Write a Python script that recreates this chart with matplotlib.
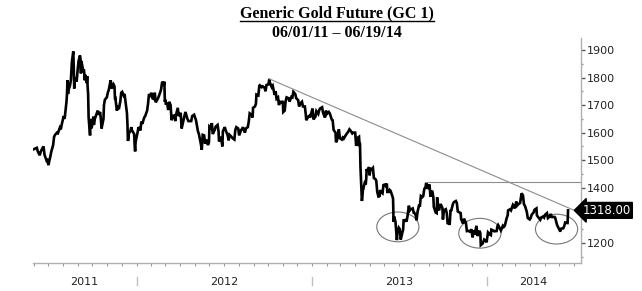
import matplotlib
matplotlib.use("Agg")
import matplotlib.pyplot as plt
import matplotlib.dates as mdates
from matplotlib.patches import Ellipse
from matplotlib.lines import Line2D
import numpy as np
from datetime import datetime

# gold front month closes (date, price)
raw_2011 = """06-01 1540, 06-03 1542, 06-07 1545, 06-09 1532, 06-13 1518, 06-15 1530, 06-17 1538, 06-21 1550,
06-23 1520, 06-27 1500, 06-29 1505, 07-01 1482, 07-05 1512, 07-07 1530, 07-11 1555, 07-13 1585, 07-15 1592,
07-19 1600, 07-21 1598, 07-25 1618, 07-27 1612, 07-29 1630, 08-02 1660, 08-04 1650, 08-08 1715, 08-09 1745,
08-10 1790, 08-11 1740, 08-12 1755, 08-15 1770, 08-17 1790, 08-18 1825, 08-19 1855, 08-22 1895, 08-23 1840,
08-24 1760, 08-25 1790, 08-26 1800, 08-29 1785, 08-31 1825, 09-02 1860, 09-05 1880, 09-06 1868, 09-07 1815,
09-08 1860, 09-09 1850, 09-12 1820, 09-13 1830, 09-14 1815, 09-15 1790, 09-16 1810, 09-19 1780, 09-20 1805,
09-21 1765, 09-22 1740, 09-23 1655, 09-26 1590, 09-27 1650, 09-28 1615, 09-30 1622, 10-03 1658, 10-04 1628,
10-06 1650, 10-10 1670, 10-12 1680, 10-14 1665, 10-17 1675, 10-19 1640, 10-20 1615, 10-24 1650, 10-25 1700,
10-27 1720, 10-31 1728, 11-02 1745, 11-04 1755, 11-08 1790, 11-09 1780, 11-10 1760, 11-14 1775, 11-16 1768,
11-17 1720, 11-18 1722, 11-21 1680, 11-23 1698, 11-25 1685, 11-28 1712, 11-30 1745, 12-02 1748, 12-05 1735,
12-07 1740, 12-09 1712, 12-12 1670, 12-13 1630, 12-14 1570, 12-15 1578, 12-16 1598, 12-19 1605, 12-21 1620,
12-22 1610, 12-27 1595, 12-28 1555, 12-29 1532, 12-30 1566"""

raw_2012 = """01-03 1600, 01-05 1620, 01-09 1608, 01-11 1640, 01-13 1632, 01-17 1655, 01-19 1660, 01-23 1680,
01-25 1705, 01-26 1725, 01-27 1740, 01-30 1730, 02-01 1745, 02-03 1725, 02-06 1722, 02-08 1745, 02-10 1710,
02-14 1722, 02-16 1730, 02-21 1755, 02-23 1780, 02-24 1785, 02-27 1772, 02-28 1785, 02-29 1712, 03-01 1720,
03-02 1705, 03-05 1705, 03-07 1682, 03-09 1712, 03-12 1700, 03-14 1645, 03-16 1660, 03-19 1662, 03-21 1648,
03-22 1642, 03-23 1662, 03-27 1690, 03-29 1660, 04-02 1672, 04-04 1615, 04-06 1630, 04-10 1662, 04-12 1675,
04-16 1650, 04-18 1642, 04-20 1642, 04-24 1642, 04-26 1660, 04-30 1665, 05-02 1655, 05-04 1645, 05-08 1605,
05-10 1595, 05-14 1560, 05-16 1538, 05-18 1592, 05-21 1590, 05-23 1560, 05-25 1575, 05-29 1555, 05-31 1565,
06-01 1622, 06-05 1615, 06-06 1635, 06-08 1595, 06-12 1610, 06-14 1622, 06-18 1628, 06-20 1605, 06-21 1568,
06-25 1585, 06-28 1550, 06-29 1605, 07-03 1620, 07-05 1608, 07-09 1590, 07-11 1572, 07-13 1592, 07-17 1585,
07-19 1580, 07-23 1575, 07-25 1610, 07-27 1620, 07-31 1615, 08-02 1590, 08-06 1610, 08-08 1612, 08-10 1620,
08-14 1600, 08-16 1615, 08-20 1620, 08-22 1640, 08-24 1670, 08-28 1665, 08-30 1655, 08-31 1690, 09-04 1695,
09-06 1705, 09-07 1738, 09-11 1735, 09-13 1770, 09-14 1772, 09-18 1765, 09-20 1768, 09-24 1763, 09-26 1750,
09-28 1773, 10-02 1775, 10-04 1795, 10-05 1782, 10-09 1765, 10-11 1770, 10-15 1737, 10-17 1750, 10-19 1723,
10-22 1728, 10-24 1700, 10-26 1712, 10-30 1710, 11-01 1715, 11-02 1675, 11-05 1680, 11-07 1715, 11-09 1728,
11-13 1725, 11-15 1713, 11-19 1730, 11-21 1728, 11-23 1748, 11-27 1740, 11-29 1725, 12-03 1718, 12-05 1695,
12-07 1705, 12-11 1712, 12-13 1695, 12-17 1695, 12-19 1665, 12-20 1645, 12-24 1658, 12-27 1662, 12-28 1655,
12-31 1675"""

raw_2013 = """01-02 1688, 01-04 1648, 01-08 1658, 01-10 1678, 01-14 1668, 01-16 1682, 01-18 1688, 01-22 1692,
01-24 1672, 01-28 1655, 01-30 1680, 02-01 1668, 02-05 1675, 02-07 1670, 02-11 1648, 02-13 1645, 02-15 1610,
02-19 1600, 02-20 1565, 02-22 1572, 02-26 1612, 02-28 1580, 03-04 1575, 03-06 1582, 03-08 1578, 03-12 1590,
03-14 1595, 03-18 1605, 03-20 1612, 03-22 1608, 03-26 1597, 03-28 1600, 04-01 1600, 04-02 1575, 04-03 1552,
04-04 1558, 04-05 1580, 04-09 1585, 04-10 1560, 04-11 1562, 04-12 1475, 04-15 1352, 04-16 1368, 04-17 1392,
04-18 1395, 04-19 1405, 04-22 1425, 04-23 1412, 04-24 1432, 04-25 1468, 04-26 1462, 04-30 1475, 05-01 1445,
05-03 1468, 05-06 1468, 05-08 1472, 05-10 1435, 05-13 1432, 05-15 1425, 05-17 1385, 05-20 1365, 05-21 1378,
05-22 1368, 05-23 1392, 05-24 1386, 05-28 1380, 05-30 1410, 06-03 1412, 06-05 1402, 06-06 1415, 06-07 1385,
06-10 1385, 06-12 1392, 06-14 1388, 06-18 1367, 06-19 1360, 06-20 1277, 06-21 1296, 06-24 1277, 06-26 1230,
06-27 1210, 06-28 1234, 07-01 1255, 07-03 1250, 07-05 1212, 07-08 1235, 07-10 1248, 07-11 1282, 07-15 1283,
07-17 1277, 07-19 1295, 07-22 1335, 07-24 1318, 07-26 1322, 07-30 1325, 08-01 1310, 08-02 1310, 08-05 1302,
08-07 1282, 08-09 1312, 08-12 1335, 08-14 1335, 08-16 1370, 08-19 1366, 08-21 1370, 08-23 1395, 08-26 1404,
08-27 1418, 08-28 1412, 08-30 1396, 09-03 1412, 09-05 1367, 09-06 1386, 09-09 1386, 09-11 1366, 09-12 1330,
09-16 1310, 09-18 1308, 09-19 1365, 09-20 1332, 09-23 1318, 09-25 1338, 09-27 1338, 09-30 1326, 10-01 1285,
10-03 1318, 10-07 1322, 10-09 1308, 10-11 1268, 10-14 1275, 10-15 1265, 10-17 1320, 10-18 1315, 10-22 1342,
10-24 1348, 10-28 1352, 10-30 1345, 11-01 1314, 11-05 1310, 11-07 1308, 11-08 1286, 11-12 1270, 11-14 1288,
11-18 1272, 11-20 1243, 11-22 1244, 11-26 1242, 11-27 1238, 11-29 1250, 12-02 1220, 12-04 1245, 12-06 1230,
12-10 1262, 12-12 1225, 12-16 1244, 12-18 1236, 12-19 1192, 12-23 1198, 12-26 1212, 12-30 1206, 12-31 1202"""

raw_2014 = """01-02 1225, 01-03 1238, 01-07 1230, 01-09 1228, 01-10 1248, 01-14 1245, 01-16 1242, 01-21 1243,
01-23 1262, 01-24 1265, 01-28 1252, 01-30 1245, 02-03 1262, 02-05 1258, 02-07 1262, 02-11 1290, 02-13 1300,
02-14 1318, 02-18 1322, 02-20 1318, 02-24 1338, 02-26 1333, 02-28 1325, 03-03 1350, 03-05 1336, 03-07 1340,
03-11 1345, 03-13 1370, 03-14 1380, 03-17 1372, 03-19 1340, 03-21 1335, 03-25 1312, 03-27 1290, 03-31 1285,
04-02 1290, 04-04 1302, 04-08 1310, 04-10 1320, 04-14 1325, 04-15 1300, 04-17 1295, 04-22 1284, 04-24 1292,
04-28 1296, 04-30 1292, 05-02 1302, 05-06 1308, 05-08 1290, 05-12 1296, 05-14 1305, 05-16 1294, 05-20 1294,
05-22 1294, 05-23 1292, 05-27 1265, 05-29 1258, 06-02 1244, 06-03 1244, 06-05 1252, 06-09 1253, 06-11 1261,
06-13 1274, 06-17 1272, 06-18 1272, 06-19 1318"""

dates = []
prices = []
for year, raw in [(2011, raw_2011), (2012, raw_2012), (2013, raw_2013), (2014, raw_2014)]:
    for item in raw.replace("\n", " ").split(","):
        md, val = item.split()
        dates.append(datetime.strptime(f"{year}-{md}", "%Y-%m-%d"))
        prices.append(float(val))

last_price = 1318.00
year_labels = ["2011", "2012", "2013", "2014"]
year_label_dates = [datetime(2011, 9, 14), datetime(2012, 7, 1), datetime(2013, 7, 1), datetime(2014, 4, 8)]
year_breaks = [datetime(2012, 1, 1), datetime(2013, 1, 1), datetime(2014, 1, 1)]

trend_start = (datetime(2012, 10, 4), 1795)
trend_end = (datetime(2014, 7, 10), 1312)
resistance = 1420
resistance_start = datetime(2013, 8, 27)
circle_centers = [(datetime(2013, 6, 29), 1258), (datetime(2013, 12, 17), 1235), (datetime(2014, 5, 26), 1250)]

fig = plt.figure(figsize=(6.42, 2.91), dpi=100)
ax = fig.add_axes([0.0514, 0.0962, 0.8536, 0.7728])

ax.plot(dates, prices, color="black", lw=1.9, solid_joinstyle="miter")

gray = "#8c8c8c"
ax.plot([trend_start[0], trend_end[0]], [trend_start[1], trend_end[1]], color=gray, lw=0.8)
xmax = datetime(2014, 7, 16)
ax.plot([resistance_start, xmax], [resistance, resistance], color=gray, lw=0.8)
for d, v in circle_centers:
    ax.add_patch(Ellipse((mdates.date2num(d), v), width=88, height=108,
                         fill=False, edgecolor="#777777", lw=0.8))

ax.set_xlim(datetime(2011, 5, 30), xmax)
ax.set_ylim(1127, 1943)

for s in ["top", "left"]:
    ax.spines[s].set_visible(False)
for s in ["right", "bottom"]:
    ax.spines[s].set_color("#b0b0b0")
    ax.spines[s].set_linewidth(1.0)

ax.yaxis.tick_right()
ax.set_yticks(np.arange(1200, 1901, 100))
ax.set_yticks(np.arange(1150, 1901, 50), minor=True)
ax.tick_params(axis="y", which="major", direction="out", length=3, width=1, color="#555555",
               labelsize=8, labelcolor="#222222", pad=1)
ax.tick_params(axis="y", which="minor", direction="out", length=1.5, width=1, color="#999999")

ax.xaxis.set_major_locator(mdates.MonthLocator())
ax.xaxis.set_major_formatter(plt.NullFormatter())
ax.tick_params(axis="x", which="major", direction="out", length=2, width=0.8, color="#999999")

xt = ax.get_xaxis_transform()
for d in year_breaks:
    ax.plot([d, d], [-0.062, -0.098], transform=xt, color="#c0c0c0", lw=1, clip_on=False)
for lab, d in zip(year_labels, year_label_dates):
    ax.text(d, -0.084, lab, transform=xt, ha="center", va="center", fontsize=8, color="#222222")

ax.text(1.003, last_price, f"{last_price:.2f}", transform=ax.get_yaxis_transform(),
        ha="left", va="center", fontsize=8.5, color="white", zorder=10, clip_on=False,
        bbox=dict(boxstyle="larrow,pad=0.12", fc="black", ec="black"))

serif = "Liberation Serif"
t1 = fig.text(0.525, 0.953, "Generic Gold Future (GC 1)", ha="center", va="center",
              fontsize=11.5, fontweight="bold", family=serif)
fig.text(0.525, 0.888, "06/01/11 \u2013 06/19/14", ha="center", va="center",
         fontsize=11.5, fontweight="bold", family=serif)

fig.canvas.draw()
bb = t1.get_window_extent().transformed(fig.transFigure.inverted())
fig.add_artist(Line2D([bb.x0, bb.x1], [bb.y0 + 0.004, bb.y0 + 0.004], color="black", lw=1))

fig.savefig("out.png", dpi=100)
